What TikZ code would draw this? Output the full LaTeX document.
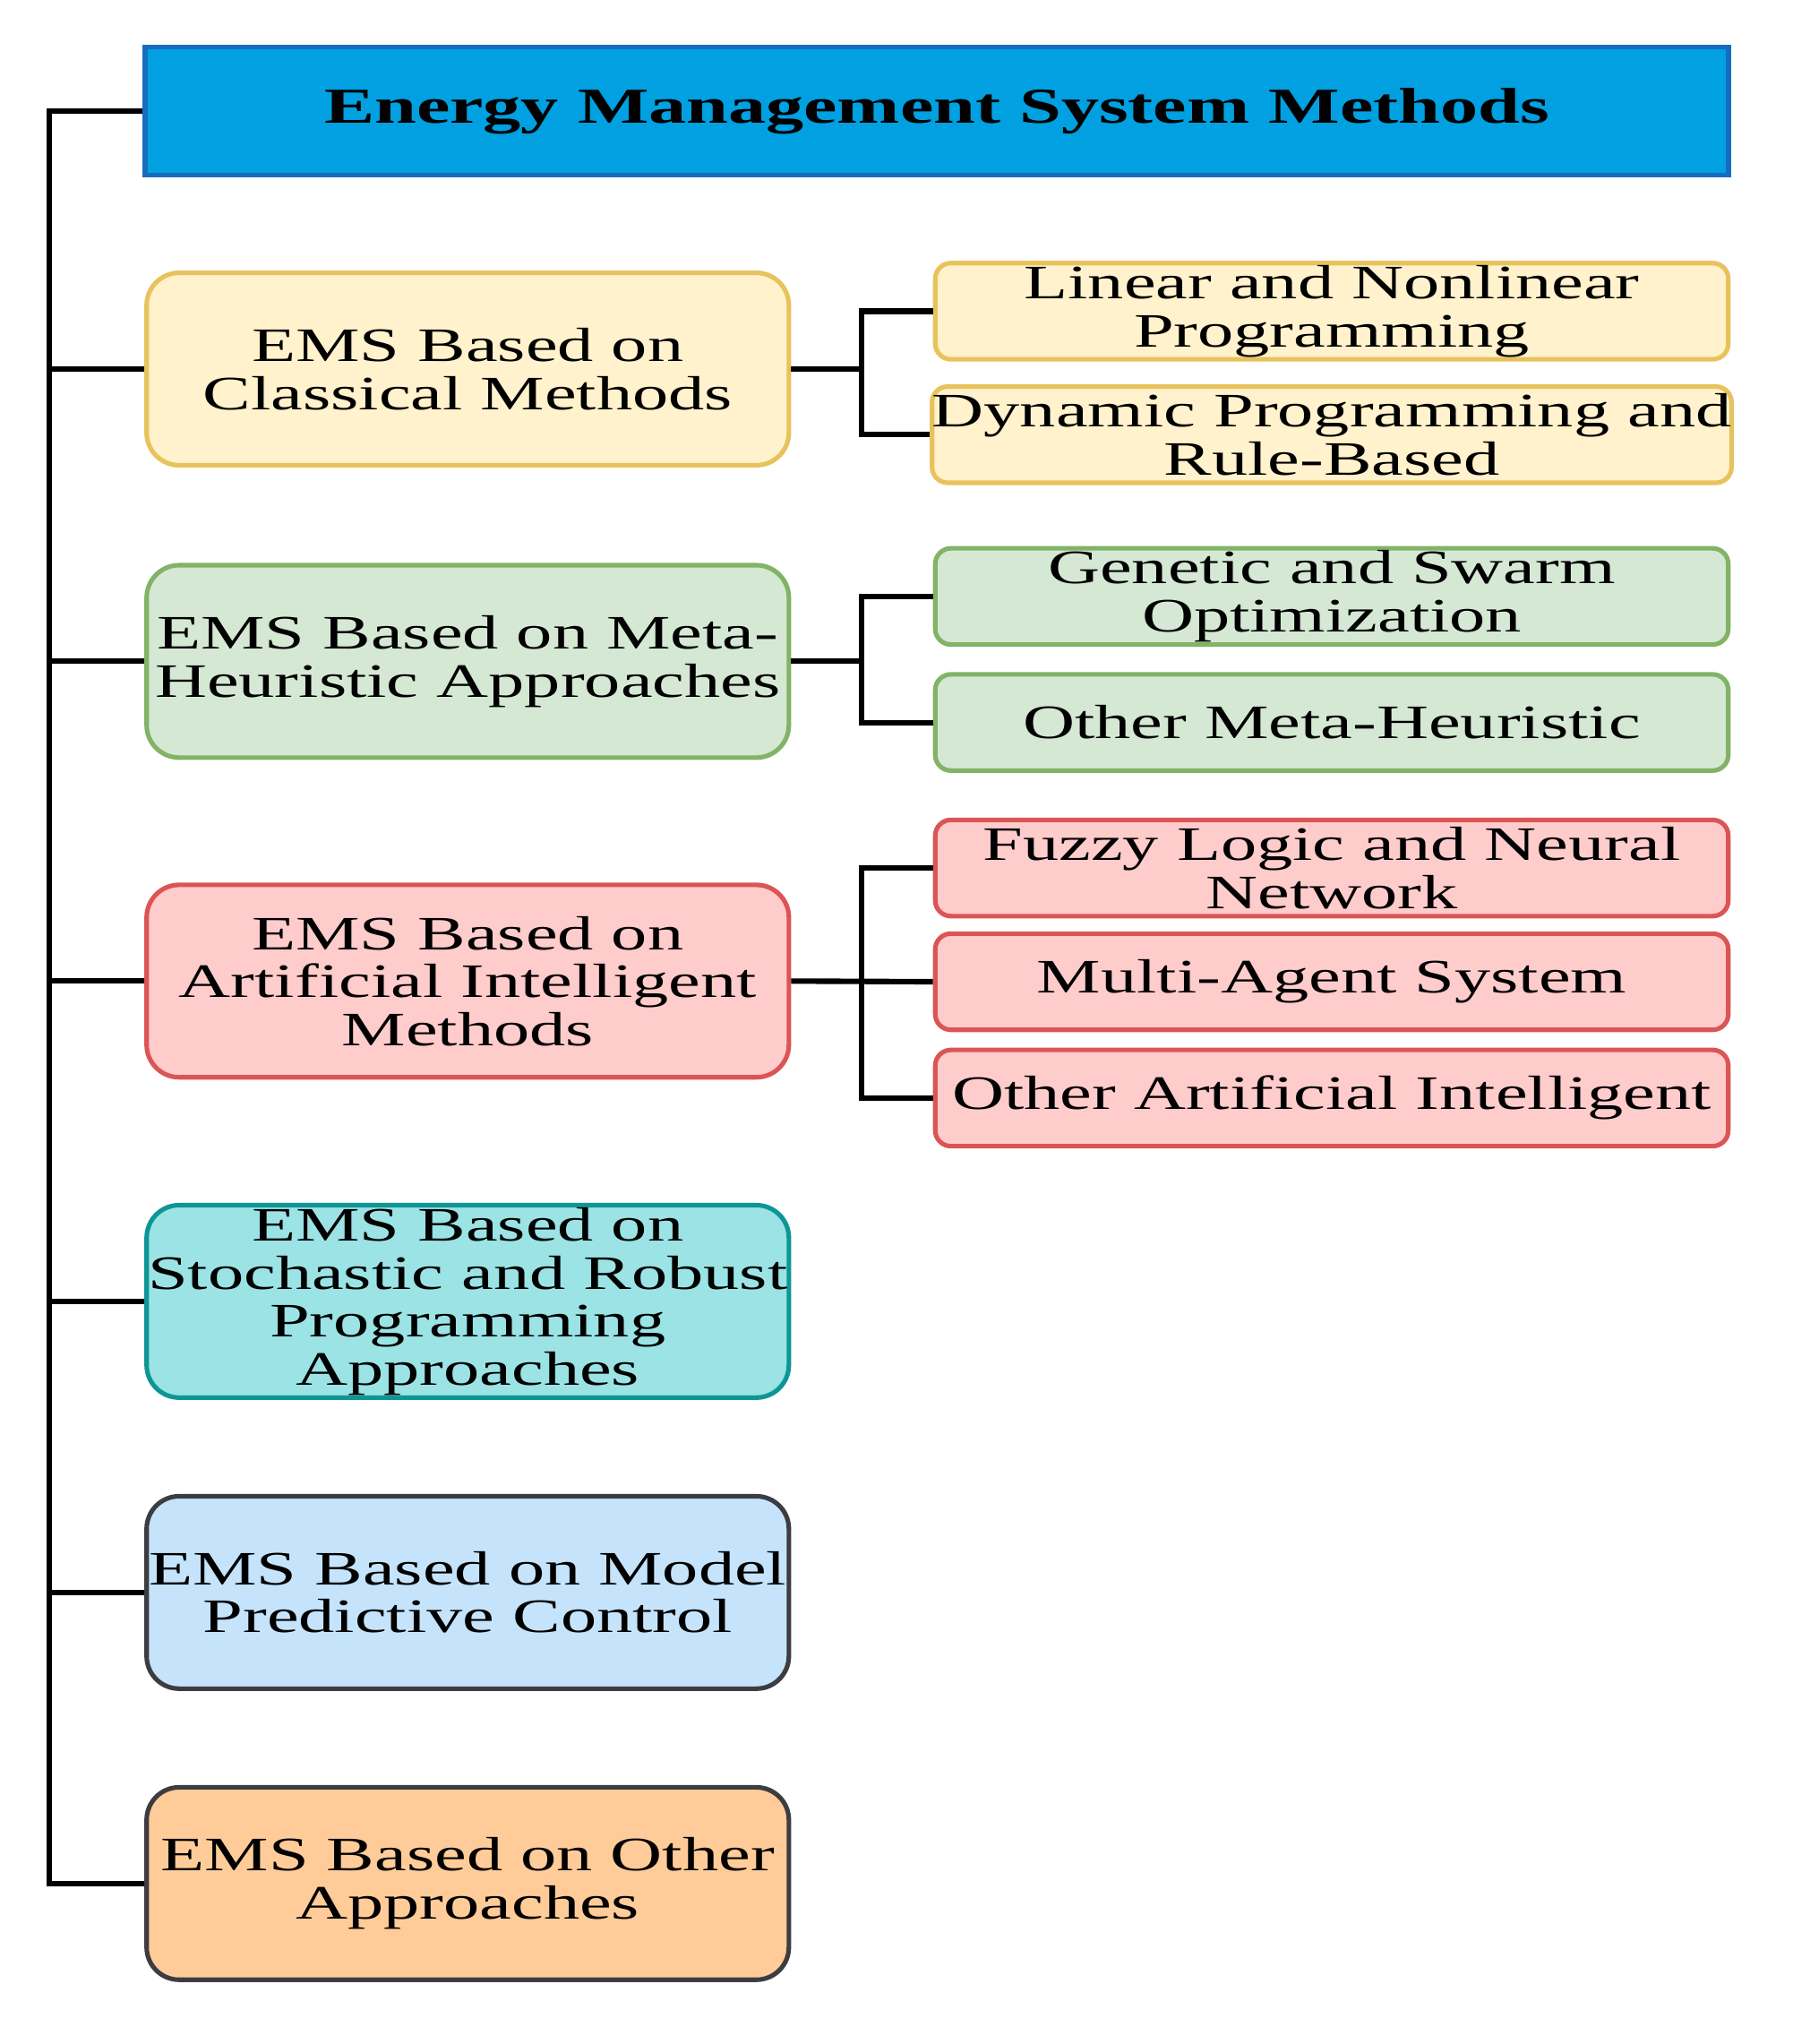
\documentclass[tikz,border=0pt]{standalone}
\usepackage{fontspec}
\setmainfont{Liberation Serif}[FakeStretch=1.5]
\begin{document}
\begin{tikzpicture}[x=0.01cm,y=-0.01cm,
  big/.style={draw,line width=1pt,rounded corners=0.25cm,minimum width=4.94cm,minimum height=1.48cm,align=center,font=\fontsize{10.5}{10.5}\selectfont,inner sep=0pt},
  small/.style={draw,line width=1pt,rounded corners=0.12cm,minimum width=6.1cm,minimum height=0.74cm,align=center,font=\fontsize{10.5}{10.5}\selectfont,inner sep=0pt},
  yel/.style={fill=yellow!20!white!95!orange,draw=orange!70!yellow!90!white,fill={rgb,255:red,255;green,242;blue,204},draw={rgb,255:red,232;green,194;blue,92}},
  grn/.style={fill={rgb,255:red,213;green,232;blue,212},draw={rgb,255:red,130;green,179;blue,102}},
  red/.style={fill={rgb,255:red,255;green,204;blue,204},draw={rgb,255:red,220;green,85;blue,85}},
  teal/.style={fill={rgb,255:red,155;green,227;blue,228},draw={rgb,255:red,14;green,150;blue,150}},
  blu/.style={fill={rgb,255:red,197;green,228;blue,252},draw={rgb,255:red,60;green,60;blue,65}},
  org/.style={fill={rgb,255:red,255;green,204;blue,153},draw={rgb,255:red,60;green,60;blue,65}},
  ln/.style={line width=1.2pt}]
\useasboundingbox (0,0) rectangle (1380,1573);
\node[draw={rgb,255:red,20;green,110;blue,190},fill={rgb,255:red,0;green,160;blue,225},line width=1pt,minimum width=12.18cm,minimum height=0.99cm,inner sep=0pt,font=\fontsize{11}{11}\selectfont\bfseries] (t) at (721,85.5) {Energy Management System Methods};
\node[big,yel] (c) at (360,284) {EMS Based on\\Classical Methods};
\node[small,yel] (c1) at (1025,239.5) {Linear and Nonlinear\\Programming};
\node[small,yel] (c2) at (1025,334.5) {Dynamic Programming and\\Rule-Based};
\node[big,grn] (m) at (360,509) {EMS Based on Meta-\\Heuristic Approaches};
\node[small,grn] (m1) at (1025,459) {Genetic and Swarm\\Optimization};
\node[small,grn] (m2) at (1025,556) {Other Meta-Heuristic};
\node[big,red] (a) at (360,755) {EMS Based on\\Artificial Intelligent\\Methods};
\node[small,red] (a1) at (1025,668) {Fuzzy Logic and Neural\\Network};
\node[small,red] (a2) at (1025,755.5) {Multi-Agent System};
\node[small,red] (a3) at (1025,845) {Other Artificial Intelligent};
\node[big,teal] (s) at (360,1001.5) {EMS Based on\\Stochastic and Robust\\Programming\\Approaches};
\node[big,blu] (p) at (360,1225.5) {EMS Based on Model\\Predictive Control};
\node[big,org] (o) at (360,1449.5) {EMS Based on Other\\Approaches};
\coordinate (top) at (38,85.5);
\coordinate (bot) at (38,1449.5);
\draw[ln] (t.west) -- (top) -- (bot) -- (o.west);
\foreach \n in {c,m,a,s,p} \draw[ln] (38,0 |- \n.west) -- (\n.west);
\coordinate (jc) at (663,284);
\draw[ln] (c.east) -- (jc);
\draw[ln] (c1.west) -| (jc) |- (c2.west);
\coordinate (jm) at (663,509);
\draw[ln] (m.east) -- (jm);
\draw[ln] (m1.west) -| (jm) |- (m2.west);
\draw[ln] (a.east) -- (a2.west);
\coordinate (ja) at (663,755.5);
\draw[ln] (a1.west) -| (ja) |- (a3.west);
\end{tikzpicture}
\end{document}
